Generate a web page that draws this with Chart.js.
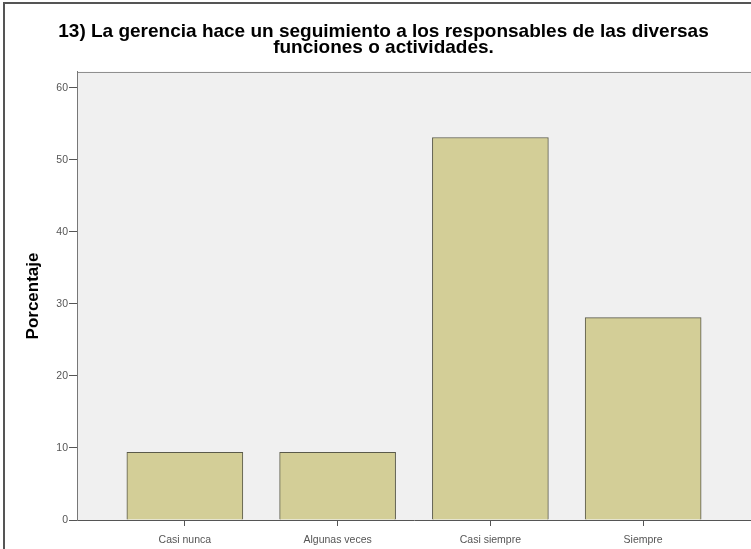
<!DOCTYPE html>
<html>
<head>
<meta charset="utf-8">
<script src="https://cdn.jsdelivr.net/npm/chart.js@4.4.1/dist/chart.umd.min.js"></script>
<style>
  html, body { margin: 0; padding: 0; background: #fff; }
</style>
</head>
<body>
<canvas id="grafico" width="751" height="549"></canvas>
<script>
// datos del gráfico
const categorias = ['Casi nunca', 'Algunas veces', 'Casi siempre', 'Siempre'];
const porcentajes = [9.4, 9.4, 53.1, 28.1];
const ticksY = [0, 10, 20, 30, 40, 50, 60];
const titulo = ['13) La gerencia hace un seguimiento a los responsables de las diversas', 'funciones o actividades.'];

const fuente = 'Arial, "Liberation Sans", sans-serif';

// fondo gris del área y marco exterior
const fondoPlugin = {
    id: 'fondo',
    beforeDraw(chart) {
        const { ctx, chartArea: a } = chart;
        ctx.save();
        ctx.fillStyle = '#f0f0f0';
        ctx.fillRect(a.left, a.top, chart.width - a.left, a.bottom - a.top);
        ctx.strokeStyle = '#8a8a8a';
        ctx.lineWidth = 1;
        ctx.beginPath();
        ctx.moveTo(a.left, a.top + 0.5);
        ctx.lineTo(chart.width, a.top + 0.5);
        ctx.stroke();
        // marco exterior
        ctx.strokeStyle = '#555';
        ctx.lineWidth = 2;
        ctx.beginPath();
        ctx.moveTo(4, chart.height);
        ctx.lineTo(4, 3);
        ctx.lineTo(chart.width, 3);
        ctx.stroke();
        ctx.restore();
    }
};

const ctx = document.getElementById('grafico').getContext('2d');
new Chart(ctx, {
    type: 'bar',
    data: {
        datasets: [{
            data: porcentajes.map((v, i) => ({ x: i, y: v })),
            backgroundColor: '#d3ce97',
            borderColor: '#5a5a4a',
            borderWidth: 1,
            barThickness: 116
        }]
    },
    options: {
        responsive: false,
        animation: false,
        devicePixelRatio: 1,
        layout: { padding: { top: 6, left: 16, right: 0, bottom: 0 } },
        plugins: {
            legend: { display: false },
            tooltip: { enabled: false },
            title: {
                display: true,
                text: titulo,
                color: '#000',
                font: { family: fuente, size: 19, weight: 'bold', lineHeight: 0.82 },
                padding: { top: 18, bottom: 16.8 }
            }
        },
        scales: {
            x: {
                type: 'linear',
                offset: false,
                min: -0.706,
                max: 3.706,
                afterBuildTicks: s => { s.ticks = categorias.map((_, i) => ({ value: i })); },
                afterFit: s => { s.height = 29; },
                ticks: {
                    callback: v => categorias[v] ?? '',
                    color: '#555',
                    font: { family: fuente, size: 10.5 },
                    padding: 8,
                    maxRotation: 0,
                    autoSkip: false
                },
                grid: { offset: false, drawOnChartArea: false, tickLength: 6, color: '#555' },
                border: { color: '#555' }
            },
            y: {
                min: 0,
                max: 62.2,
                afterBuildTicks: s => { s.ticks = ticksY.map(v => ({ value: v })); },
                afterFit: s => { s.width = 61; },
                ticks: {
                    color: '#555',
                    font: { family: fuente, size: 10.5 },
                    padding: 1
                },
                grid: { drawOnChartArea: false, tickLength: 8, color: '#555' },
                border: { color: '#777' },
                title: {
                    display: true,
                    text: 'Porcentaje',
                    color: '#000',
                    font: { family: fuente, size: 17, weight: 'bold' },
                    padding: { top: 7, bottom: 0 }
                }
            }
        }
    },
    plugins: [fondoPlugin]
});
</script>
</body>
</html>
